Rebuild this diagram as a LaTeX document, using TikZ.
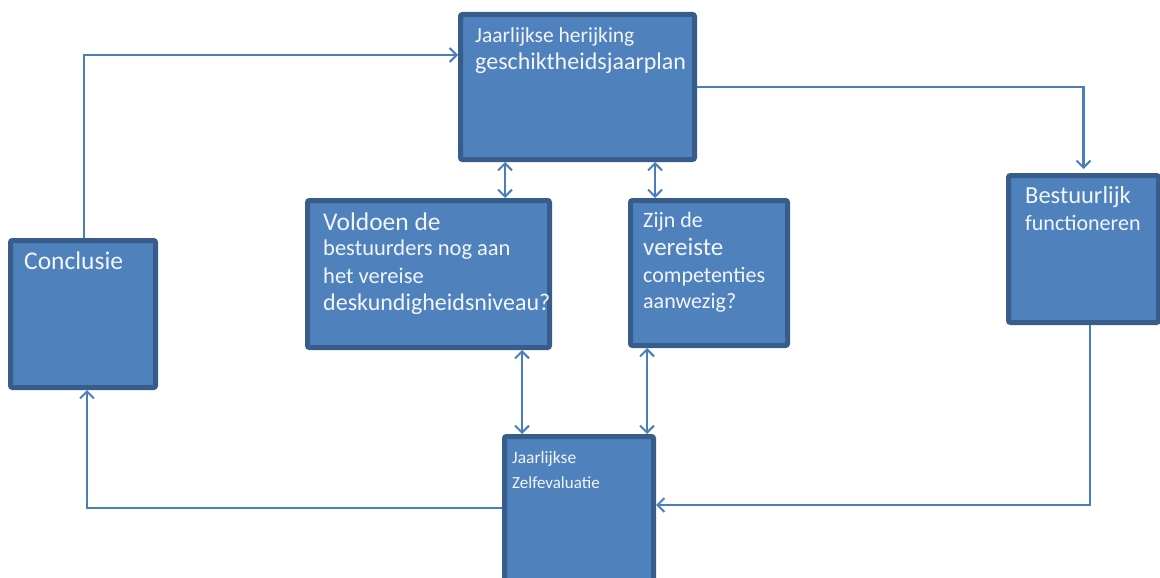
\documentclass[tikz,border=0pt]{standalone}
\usepackage{fontspec}
\setmainfont{Carlito}
\usetikzlibrary{arrows.meta}
\definecolor{boxfill}{HTML}{4F81BD}
\definecolor{boxline}{HTML}{385D8A}
\definecolor{conn}{HTML}{4A7EBB}
\definecolor{boxtext}{HTML}{F2F5FA}
\tikzset{
  box/.style={rectangle, fill=boxfill, draw=boxline, line width=5pt, rounded corners=2pt, inner sep=0pt},
  lbl/.style={anchor=base west, inner sep=0pt, text=boxtext},
  conn/.style={draw=conn, line width=2.5pt},
  arr/.style={conn, -{Straight Barb[length=7pt,width=14pt,line width=2pt]}},
  dbl/.style={conn, {Straight Barb[length=7pt,width=14pt,line width=2pt]}-{Straight Barb[length=7pt,width=14pt,line width=2pt]}},
}
\newcommand{\fs}[1]{\fontsize{#1}{#1}\selectfont}
\begin{document}
\begin{tikzpicture}[x=1pt,y=-1pt]
\clip (0,0) rectangle (1160,578);
\fill[white] (0,0) rectangle (1160,578);
% boxes
\node[box, minimum width=234pt, minimum height=145pt] (top) at (577.5,87) {};
\node[box, minimum width=242pt, minimum height=147pt] (ml) at (428.5,274) {};
\node[box, minimum width=157pt, minimum height=145pt] (mr) at (709,273) {};
\node[box, minimum width=145pt, minimum height=147pt] (conc) at (83,314) {};
\node[box, minimum width=150pt, minimum height=147pt] (best) at (1083.5,249) {};
\node[box, minimum width=149pt, minimum height=145pt] (bot) at (579,509) {};
% texts
\node[lbl, font=\fs{21.5}] (t1) at (475,43) {Jaarlijkse herijking};
\node[lbl, font=\fs{24}] (t2) at (475,70) {geschiktheidsjaarplan};
\node[lbl, font=\fs{25.5}] (m1) at (323,230) {Voldoen de};
\node[lbl, font=\fs{22.5}] (m2) at (323,255) {bestuurders nog aan};
\node[lbl, font=\fs{22.5}] (m3) at (323,283) {het vereise};
\node[lbl, font=\fs{24}] (m4) at (323,310) {deskundigheidsniveau?};
\node[lbl, font=\fs{22}] (r1) at (643,227) {Zijn de};
\node[lbl, font=\fs{25}] (r2) at (643,255) {vereiste};
\node[lbl, font=\fs{22}] (r3) at (643,282) {competenties};
\node[lbl, font=\fs{22}] (r4) at (643,308) {aanwezig?};
\node[lbl, font=\fs{25.5}] (c1) at (24,269) {Conclusie};
\node[lbl, font=\fs{24.5}] (b1) at (1025,203) {Bestuurlijk};
\node[lbl, font=\fs{22}] (b2) at (1025,230) {functioneren};
\node[lbl, font=\fs{17.5}] (z1) at (512,463) {Jaarlijkse};
\node[lbl, font=\fs{17}] (z2) at (512,488) {Zelfevaluatie};
% helper coordinates
\coordinate (xa) at (505,0);
\coordinate (xb) at (655,0);
\coordinate (xc) at (522,0);
\coordinate (xd) at (647,0);
\coordinate (xe) at (84,0);
\coordinate (xf) at (1090,0);
\coordinate (xg) at (87,0);
\coordinate (ya) at (0,55);
\coordinate (yb) at (0,505);
\coordinate (yc) at (0,508);
% connectors
\draw[arr] (conc.north -| xe) |- (top.west |- ya);
\draw[arr, shorten >=4pt] (top.east) -| (best.north);
\draw[arr] (best.south -| xf) |- (bot.east |- yb);
\draw[arr] (bot.west |- yc) -| (conc.south -| xg);
\draw[dbl] (top.south -| xa) -- (ml.north -| xa);
\draw[dbl] (top.south -| xb) -- (mr.north -| xb);
\draw[dbl] (ml.south -| xc) -- (bot.north -| xc);
\draw[dbl] (mr.south -| xd) -- (bot.north -| xd);
\end{tikzpicture}
\end{document}
